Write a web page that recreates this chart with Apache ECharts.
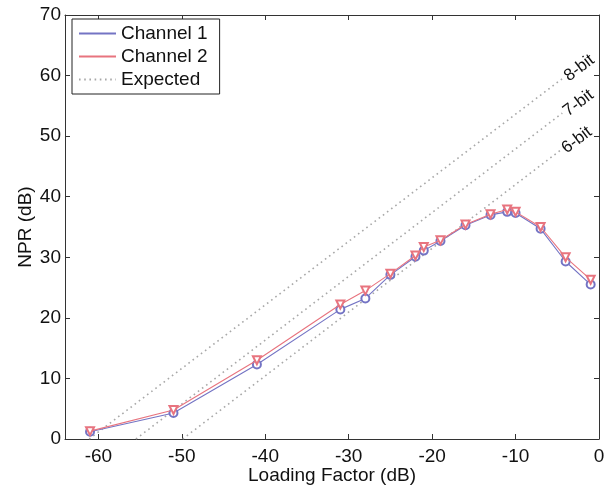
<!DOCTYPE html>
<html>
<head>
<meta charset="utf-8">
<script src="https://cdn.jsdelivr.net/npm/echarts@6/dist/echarts.min.js"></script>
<style>html,body{margin:0;padding:0;background:#fff}#c{width:607px;height:488px}</style>
</head>
<body>
<div id="c"></div>
<script>
// Data
var loadingFactor = [-61, -51, -41, -31, -28, -25, -22, -21, -19, -16, -13, -11, -10, -7, -4, -1];
var channel1 = [1.2, 4.3, 12.3, 21.4, 23.2, 27.1, 30.1, 31.1, 32.7, 35.3, 37.0, 37.5, 37.3, 34.7, 29.3, 25.5];
var channel2 = [1.3, 4.8, 13.0, 22.2, 24.5, 27.3, 30.3, 31.7, 32.8, 35.4, 37.1, 37.9, 37.5, 35.0, 30.0, 26.3];
var expected8X = [-61.1, -4.3], expected8Y = [0, 59.6];
var expected7X = [-55.5, -4.4], expected7Y = [0, 53.8];
var expected6X = [-49.9, -4.6], expected6Y = [0, 47.7];
var expectedLabels = ['8-bit', '7-bit', '6-bit'];
var xTicks = [-60, -50, -40, -30, -20, -10, 0];
var yTicks = [0, 10, 20, 30, 40, 50, 60, 70];

var font = 'Liberation Sans, Arial, sans-serif';
function pairs(xs, ys) { return xs.map(function (x, i) { return [x, ys[i]]; }); }
function expectedSeries(xs, ys, label) {
  return {
    name: 'Expected', type: 'line', data: pairs(xs, ys), showSymbol: false, symbol: 'none',
    lineStyle: { color: '#a8a8a8', width: 1.6, type: [1.6, 3.6] },
    itemStyle: { color: '#a8a8a8' },
    endLabel: {
      show: true, formatter: label, distance: 3, rotate: 37,
      align: 'left', verticalAlign: 'middle', color: '#111',
      fontFamily: font, fontSize: 17
    },
    silent: true, z: 1, animation: false
  };
}

var chart = echarts.init(document.getElementById('c'), null, { renderer: 'canvas' });
var option = {
  animation: false,
  backgroundColor: '#fff',
  grid: { left: 65, right: 8, top: 15, bottom: 49, containLabel: false, outerBoundsMode: 'none' },
  legend: {
    orient: 'vertical', left: 72, top: 19,
    backgroundColor: '#fff', borderColor: '#222', borderWidth: 1,
    padding: [5, 12, 5, 6], itemGap: 4, itemWidth: 37, itemHeight: 14,
    textStyle: { fontFamily: font, fontSize: 19, color: '#111' },
    data: [
      { name: 'Channel 1', itemStyle: { opacity: 0 } },
      { name: 'Channel 2', itemStyle: { opacity: 0 } },
      { name: 'Expected', itemStyle: { opacity: 0 } }
    ]
  },
  xAxis: [{
    type: 'value', min: -64, max: 0, position: 'bottom',
    name: 'Loading Factor (dB)', nameLocation: 'middle', nameGap: 27, nameMoveOverlap: false,
    nameTextStyle: { fontFamily: font, fontSize: 19, color: '#111' },
    axisLine: { show: true, onZero: false, lineStyle: { color: '#333', width: 1 } },
    axisTick: { show: true, inside: true, length: 5, customValues: xTicks, lineStyle: { color: '#333' } },
    axisLabel: { customValues: xTicks, margin: 8, fontFamily: font, fontSize: 19, color: '#111' },
    splitLine: { show: false }
  }, {
    type: 'value', min: -64, max: 0, position: 'top',
    axisLine: { show: true, onZero: false, lineStyle: { color: '#333', width: 1 } },
    axisTick: { show: true, inside: true, length: 5, customValues: xTicks, lineStyle: { color: '#333' } },
    axisLabel: { show: false },
    splitLine: { show: false }
  }],
  yAxis: [{
    type: 'value', min: 0, max: 70, interval: 10, position: 'left',
    name: 'NPR (dB)', nameLocation: 'middle', nameGap: 30, nameRotate: 90, nameMoveOverlap: false,
    nameTextStyle: { fontFamily: font, fontSize: 19, color: '#111' },
    axisLine: { show: true, onZero: false, lineStyle: { color: '#333', width: 1 } },
    axisTick: { show: true, inside: true, length: 5, customValues: yTicks, lineStyle: { color: '#333' } },
    axisLabel: { customValues: yTicks, margin: 4, fontFamily: font, fontSize: 19, color: '#111' },
    splitLine: { show: false }
  }, {
    type: 'value', min: 0, max: 70, interval: 10, position: 'right',
    axisLine: { show: true, onZero: false, lineStyle: { color: '#333', width: 1 } },
    axisTick: { show: true, inside: true, length: 5, customValues: yTicks, lineStyle: { color: '#333' } },
    axisLabel: { show: false },
    splitLine: { show: false }
  }],
  series: [
    expectedSeries(expected8X, expected8Y, expectedLabels[0]),
    expectedSeries(expected7X, expected7Y, expectedLabels[1]),
    expectedSeries(expected6X, expected6Y, expectedLabels[2]),
    {
      name: 'Channel 1', type: 'line', data: pairs(loadingFactor, channel1),
      symbol: 'emptyCircle', symbolSize: 8, showAllSymbol: true,
      lineStyle: { color: '#7474c4', width: 1.1 },
      itemStyle: { color: '#7474c4', borderWidth: 1 }, z: 3
    },
    {
      name: 'Channel 2', type: 'line', data: pairs(loadingFactor, channel2),
      symbol: 'emptyTriangle', symbolRotate: 180, symbolSize: 8, showAllSymbol: true,
      lineStyle: { color: '#e8747f', width: 1.1 },
      itemStyle: { color: '#e8747f', borderWidth: 1 }, z: 4
    }
  ]
};
chart.setOption(option);
</script>
</body>
</html>
